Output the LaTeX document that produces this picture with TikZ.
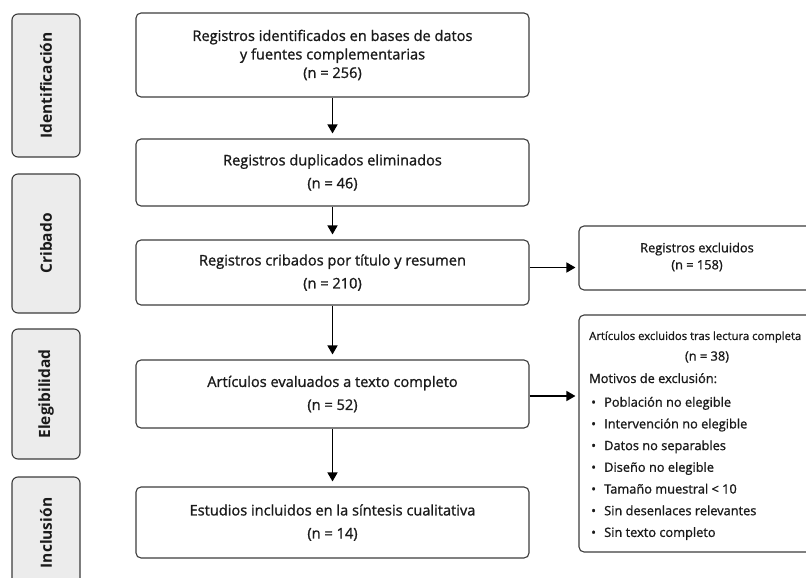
\documentclass[tikz,border=0pt]{standalone}
\usepackage{fontspec}
\setmainfont{Open Sans}
\newfontfamily\medfont{Open Sans}[FakeBold=1.1]
\usetikzlibrary{arrows.meta}
\definecolor{txt}{HTML}{1A1A1A}
\definecolor{edge}{HTML}{3C3C3C}
\definecolor{lblfill}{HTML}{ECECEC}
\tikzset{
  phase/.style={draw=edge, fill=lblfill, line width=1.1pt, rounded corners=6pt,
    minimum height=68pt, inner sep=0pt, rotate=90, text=txt,
    font=\fontsize{15.5}{18}\selectfont\bfseries},
  mainbox/.style={draw=edge, fill=white, line width=1.1pt, rounded corners=5pt,
    minimum width=393pt, inner sep=0pt, text=txt, align=center,
    font=\medfont\fontsize{14.6}{23}\selectfont},
  sidebox/.style={draw=edge, fill=white, line width=1.1pt, rounded corners=5pt,
    inner sep=0pt},
  sidetext/.style={text=txt, inner sep=0pt, font=\medfont\fontsize{12.8}{17}\selectfont},
  flow/.style={line width=1.5pt, draw=black, -{Triangle[length=9pt,width=10pt]}}
}
\begin{document}
\begin{tikzpicture}[x=1pt,y=-1pt]
\useasboundingbox (0,0) rectangle (806,578);
\clip (0,0) rectangle (806,578);
% phase labels
\node[phase, minimum width=143pt] (pid) at (46,85.5) {Identificación};
\node[phase, minimum width=139pt] (pcr) at (46,243.5) {Cribado};
\node[phase, minimum width=130pt] (pel) at (46,394) {Elegibilidad};
\node[phase, minimum width=112pt] (pin) at (46,533) {Inclusión};
% main boxes
\node[mainbox, minimum height=84pt, font=\medfont\fontsize{14.6}{18.5}\selectfont] (b1) at (332.5,55)
  {Registros identificados en bases de datos\\y fuentes complementarias\\(n = 256)};
\node[mainbox, minimum height=67pt] (b2) at (332.5,172.5)
  {Registros duplicados eliminados\\(n = 46)};
\node[mainbox, minimum height=65pt] (b3) at (332.5,272.5)
  {Registros cribados por título y resumen\\(n = 210)};
\node[mainbox, minimum height=68pt] (b4) at (332.5,394)
  {Artículos evaluados a texto completo\\(n = 52)};
\node[mainbox, minimum height=71pt] (b5) at (332.5,522.5)
  {Estudios incluidos en la síntesis cualitativa\\(n = 14)};
% side boxes
\node[sidebox, minimum width=236pt, minimum height=64pt] (r1) at (697,258) {};
\node[sidetext, align=center] (r1t) at (697,257) {Registros excluidos\\(n = 158)};
\node[sidebox, minimum width=256pt, minimum height=237pt] (r2) at (707,433.5) {};
\node[sidetext, anchor=west, font=\medfont\fontsize{11.3}{14}\selectfont] (r2h) at (589,337)
  {Artículos excluidos tras lectura completa};
\node[sidetext] (r2n) at (707,357) {(n = 38)};
\node[sidetext, align=left, anchor=north west, font=\medfont\fontsize{12.8}{21.7}\selectfont] (r2l) at (589,373)
  {Motivos de exclusión:\\[2pt]
   \makebox[15pt][l]{\hspace{2pt}\textbullet}Población no elegible\\
   \makebox[15pt][l]{\hspace{2pt}\textbullet}Intervención no elegible\\
   \makebox[15pt][l]{\hspace{2pt}\textbullet}Datos no separables\\
   \makebox[15pt][l]{\hspace{2pt}\textbullet}Diseño no elegible\\
   \makebox[15pt][l]{\hspace{2pt}\textbullet}Tamaño muestral < 10\\
   \makebox[15pt][l]{\hspace{2pt}\textbullet}Sin desenlaces relevantes\\
   \makebox[15pt][l]{\hspace{2pt}\textbullet}Sin texto completo};
% connectors
\draw[flow, shorten >=5pt] (b1) -- (b2);
\draw[flow, shorten >=5pt] (b2) -- (b3);
\draw[flow, shorten >=5pt] (b3) -- (b4);
\draw[flow, shorten >=5pt] (b4) -- (b5);
\draw[flow, shorten >=3pt] ([yshift=5pt]b3.east) -- ([yshift=5pt]b3.east -| r1.west);
\draw[flow, shorten >=3pt] ([yshift=-2pt]b4.east) -- ([yshift=-2pt]b4.east -| r2.west);
\end{tikzpicture}
\end{document}
